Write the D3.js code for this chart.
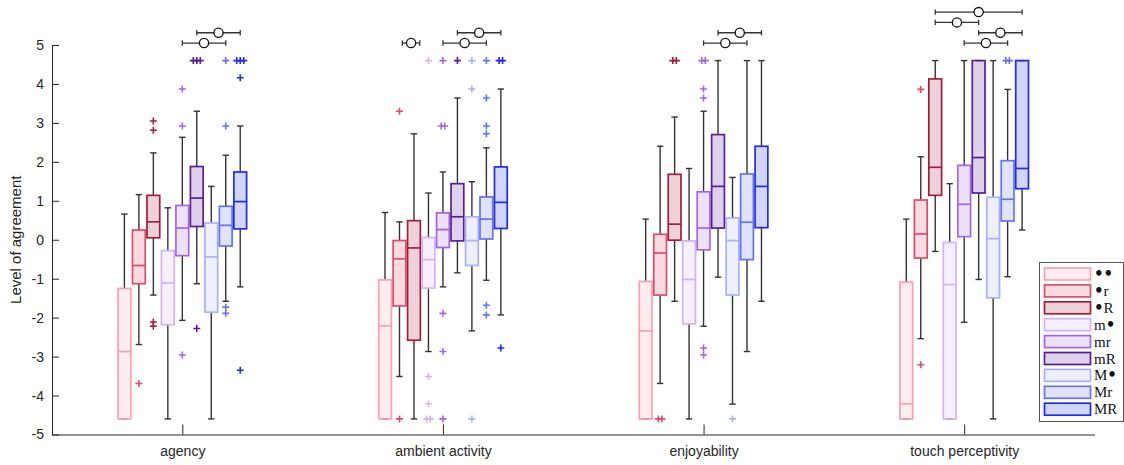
<!DOCTYPE html>
<html>
<head>
<meta charset="utf-8">
<script src="https://cdn.jsdelivr.net/npm/d3@7"></script>
<style>
  body { margin: 0; background: #fff; }
  svg { display: block; }
</style>
</head>
<body>
<svg id="chart" width="1124" height="465"></svg>
<script>
// Categories and the nine conditions shown in each
const categories = ["agency", "ambient activity", "enjoyability", "touch perceptivity"];
const groups = ["\u2022\u2022", "\u2022r", "\u2022R", "m\u2022", "mr", "mR", "M\u2022", "Mr", "MR"];
const groupColors = ["#f7a1b3", "#e04b68", "#a51c3c", "#d2b3f8", "#a366e3", "#5a1d97", "#a9b0fd", "#6472f7", "#1c2cf0"];
const yTicks = [-5, -4, -3, -2, -1, 0, 1, 2, 3, 4, 5];

// Box statistics, one row per category, one value per condition
const whiskerHigh = [
  [0.66, 1.16, 2.23, 0.82, 2.63, 3.30, 1.37, 2.17, 2.92],
  [0.70, 0.46, 2.72, 1.20, 1.74, 3.64, 1.49, 2.36, 3.87],
  [0.53, 2.40, 3.15, 1.83, 3.30, 4.60, 1.60, 4.60, 4.60],
  [0.53, 2.13, 4.60, 1.44, 4.60, 4.60, 4.60, 3.86, 4.60]
];
const upperQuartile = [
  [-1.25, 0.25, 1.14, -0.28, 0.88, 1.88, 0.43, 0.86, 1.74],
  [-1.03, -0.02, 0.49, 0.06, 0.69, 1.44, 0.59, 1.10, 1.87],
  [-1.07, 0.14, 1.68, -0.03, 1.23, 2.70, 0.56, 1.69, 2.40],
  [-1.09, 1.02, 4.13, -0.07, 1.91, 4.60, 1.09, 2.03, 4.60]
];
const medians = [
  [-2.87, -0.66, 0.46, -1.11, 0.30, 1.07, -0.44, 0.37, 0.98],
  [-2.21, -0.49, -0.21, -0.51, 0.26, 0.59, -0.02, 0.53, 0.96],
  [-2.34, -0.34, 0.40, -1.02, 0.30, 1.37, -0.02, 0.45, 1.37],
  [-4.21, 0.15, 1.86, -1.15, 0.91, 2.11, 0.03, 1.04, 1.83]
];
const lowerQuartile = [
  [-4.60, -1.13, 0.05, -2.18, -0.41, 0.34, -1.86, -0.16, 0.28],
  [-4.60, -1.70, -2.58, -1.24, -0.20, -0.03, -0.66, 0.02, 0.29],
  [-4.60, -1.42, -0.01, -2.16, -0.26, 0.30, -1.42, -0.51, 0.31],
  [-4.60, -0.47, 1.14, -4.60, 0.08, 1.20, -1.49, 0.48, 1.31]
];
const whiskerLow = [
  [-4.60, -2.69, -1.42, -4.60, -2.07, -1.13, -4.60, -1.58, -1.21],
  [-4.60, -3.51, -4.60, -2.87, -1.21, -0.85, -2.34, -1.04, -1.93],
  [-4.60, -3.69, -1.58, -4.60, -2.22, -0.96, -4.22, -2.87, -1.58],
  [-4.60, -2.54, -0.30, -4.60, -2.12, -1.02, -4.60, -0.95, 0.25]
];
const outliers = [
  [[], [-3.69], [3.05, 2.81, -2.11, -2.22], [], [3.87, 2.92, -2.96], [4.6, 4.6, 4.6, -2.28], [], [4.6, 2.92, -1.73, -1.89], [4.6, 4.6, 4.6, 4.16, -3.35]],
  [[], [3.30, -4.6], [], [4.6, -3.51, -4.21, -4.6, -4.6], [4.6, 2.92, 2.92, -1.89, -2.87, -4.6], [4.6], [4.6, 3.87, -4.6], [4.6, 3.64, 2.92, 2.72, -1.68, -1.93], [4.6, 4.6, -2.78]],
  [[], [-4.6, -4.6], [4.6, 4.6], [], [4.6, 4.6, 3.87, 3.64, -2.78, -2.96], [], [-4.6], [], []],
  [[], [3.86, -3.21], [], [], [], [], [], [4.6, 4.6], []]
];

// Pairwise comparison markers: category, span between condition slots, stacking row
const compCategory = [0, 0, 1, 1, 1, 2, 2, 3, 3, 3, 3];
const compFrom = [5, 4, 5, 4, 1.2, 5, 4, 2, 2, 5, 4];
const compTo = [8, 7, 8, 7, 2.4, 8, 7, 8, 5, 8, 7];
const compRow = [1, 0, 1, 0, 0, 1, 0, 3, 2, 1, 0];

const svg = d3.select("#chart");
const axisColor = "#262626";
const x = d3.scaleLinear().domain([0.5, 4.5]).range([52, 1094.5]);
const y = d3.scaleLinear().domain([-5, 5]).range([434.5, 45]);
const slotStep = 1 / 18;
const boxHalf = 0.0245;
const capHalf = boxHalf * 0.5;
const slotX = (c, k) => c + 1 + (k - 4) * slotStep;

// Axes
const yAxis = d3.axisLeft(y).tickValues(yTicks).tickFormat(d3.format("d"))
  .tickSizeInner(-7).tickSizeOuter(0).tickPadding(8);
const xAxis = d3.axisBottom(x).tickValues([1, 2, 3, 4]).tickFormat((d) => categories[d - 1])
  .tickSizeInner(-10).tickSizeOuter(0).tickPadding(12);

const gy = svg.append("g").attr("transform", "translate(52,0)").call(yAxis);
const gx = svg.append("g").attr("transform", "translate(0,434.5)").call(xAxis);
[gy, gx].forEach((g) => {
  g.select(".domain").attr("stroke", axisColor).attr("stroke-width", 1);
  g.selectAll(".tick line").attr("stroke", axisColor).attr("stroke-width", 1);
  g.selectAll(".tick text").attr("fill", axisColor)
    .style("font-family", "'Liberation Sans', Arial, sans-serif").style("font-size", "14px");
});
gy.selectAll(".tick text").text((d) => (d < 0 ? "-" + Math.abs(d) : String(d)));

svg.append("text")
  .attr("transform", "translate(21," + y(0) + ") rotate(-90)")
  .attr("text-anchor", "middle")
  .attr("fill", axisColor)
  .style("font-family", "'Liberation Sans', Arial, sans-serif")
  .style("font-size", "15px")
  .text("Level of agreement");

// Box plots
const plot = svg.append("g");
categories.forEach((cat, c) => {
  groups.forEach((gname, k) => {
    const cx = slotX(c, k);
    const col = groupColors[k];
    const g = plot.append("g");
    const wc = "#333";
    // whiskers
    g.append("line").attr("x1", x(cx)).attr("x2", x(cx))
      .attr("y1", y(upperQuartile[c][k])).attr("y2", y(whiskerHigh[c][k]))
      .attr("stroke", wc).attr("stroke-width", 1.4);
    g.append("line").attr("x1", x(cx)).attr("x2", x(cx))
      .attr("y1", y(lowerQuartile[c][k])).attr("y2", y(whiskerLow[c][k]))
      .attr("stroke", wc).attr("stroke-width", 1.4);
    [whiskerHigh[c][k], whiskerLow[c][k]].forEach((v) => {
      g.append("line").attr("x1", x(cx - capHalf)).attr("x2", x(cx + capHalf))
        .attr("y1", y(v)).attr("y2", y(v))
        .attr("stroke", wc).attr("stroke-width", 1.4);
    });
    // box
    g.append("rect")
      .attr("x", x(cx - boxHalf)).attr("width", x(cx + boxHalf) - x(cx - boxHalf))
      .attr("y", y(upperQuartile[c][k]))
      .attr("height", y(lowerQuartile[c][k]) - y(upperQuartile[c][k]))
      .attr("fill", col).attr("fill-opacity", 0.2)
      .attr("stroke", col).attr("stroke-width", 1.7);
    // median
    g.append("line").attr("x1", x(cx - boxHalf)).attr("x2", x(cx + boxHalf))
      .attr("y1", y(medians[c][k])).attr("y2", y(medians[c][k]))
      .attr("stroke", col).attr("stroke-width", 1.7);
    // outliers, repeated values spread sideways
    const vals = outliers[c][k];
    const counts = d3.rollup(vals, (v) => v.length, (d) => d);
    const seen = new Map();
    vals.forEach((v) => {
      const n = counts.get(v);
      const j = seen.get(v) || 0;
      seen.set(v, j + 1);
      const px = x(cx) + (j - (n - 1) / 2) * 3.5;
      const py = y(v);
      g.append("path")
        .attr("d", `M${px - 3.5},${py}H${px + 3.5}M${px},${py - 3.5}V${py + 3.5}`)
        .attr("stroke", col).attr("stroke-width", 1.6).attr("fill", "none");
    });
  });
});

// Comparison markers above the boxes
const comp = svg.append("g");
compCategory.forEach((c, i) => {
  const x1 = x(slotX(c, compFrom[i]));
  const x2 = x(slotX(c, compTo[i]));
  const yy = y(5.05 + 0.265 * compRow[i]);
  comp.append("line").attr("x1", x1).attr("x2", x2).attr("y1", yy).attr("y2", yy)
    .attr("stroke", "#333").attr("stroke-width", 1.3);
  [x1, x2].forEach((xx) => {
    comp.append("line").attr("x1", xx).attr("x2", xx).attr("y1", yy - 2.7).attr("y2", yy + 2.7)
      .attr("stroke", "#333").attr("stroke-width", 1.3);
  });
  comp.append("circle").attr("cx", (x1 + x2) / 2).attr("cy", yy).attr("r", 4.6)
    .attr("fill", "#fff").attr("stroke", "#111").attr("stroke-width", 1.3);
});

// Legend
const lg = svg.append("g");
lg.append("rect").attr("x", 1039.5).attr("y", 262.5).attr("width", 84).attr("height", 159)
  .attr("fill", "#fff").attr("stroke", "#555").attr("stroke-width", 1);
groups.forEach((gname, k) => {
  const cy = 274 + k * 16.9;
  lg.append("rect").attr("x", 1044.5).attr("y", cy - 6).attr("width", 46).attr("height", 12)
    .attr("fill", groupColors[k]).attr("fill-opacity", 0.2)
    .attr("stroke", groupColors[k]).attr("stroke-width", 1.7);
  const t = lg.append("text").attr("x", 1094).attr("y", cy + 5)
    .attr("fill", "#111")
    .style("font-family", "'Liberation Serif', 'DejaVu Serif', serif")
    .style("font-size", "15px");
  // bullets use a heavier sans glyph at the same size as the letters
  Array.from(gname).forEach((ch) => {
    const span = t.append("tspan").text(ch);
    if (ch === "\u2022") span.style("font-family", "'DejaVu Sans', sans-serif").style("font-weight", "bold");
  });
});
</script>
</body>
</html>
